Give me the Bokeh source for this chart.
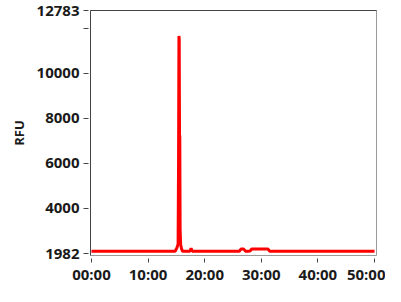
from bokeh.plotting import figure
from bokeh.models import FixedTicker, LinearAxis, Range1d
from bokeh.embed import file_html
from bokeh.resources import INLINE

# Data (time in minutes, fluorescence in RFU)
time_min = [0, 14.8, 15.1, 15.3, 15.38, 15.45, 15.5, 15.55, 15.6, 15.66, 15.75,
            15.9, 16.1, 17.4, 17.6, 17.8, 26.1, 26.4, 26.9, 27.2, 27.6, 28.0,
            28.3, 31.2, 31.5, 50]
rfu = [2080, 2090, 2250, 2400, 6000, 11650, 11500, 7250, 7200, 3000, 2400,
       2200, 2080, 2080, 2220, 2080, 2080, 2180, 2180, 2090, 2080, 2100,
       2180, 2180, 2080, 2080]

x_ticks = [0, 10, 20, 30, 40, 50]
x_labels = ["00:00", "10:00", "20:00", "30:00", "40:00", "50:00"]
y_ticks = [1982, 4000, 6000, 8000, 10000, 12000, 12783]
y_labels = ["1982", "4000", "6000", "8000", "10000", "", "12783"]

FONT = "Open Sans"
DARK = "#1a1a1a"

p = figure(width=385, height=286, output_backend="svg", toolbar_location=None,
           x_range=Range1d(-0.175, 50.35), y_range=Range1d(1896, 12783),
           min_border_left=90, min_border_right=9, min_border_top=10,
           min_border_bottom=24)
p.grid.visible = False
p.outline_line_color = "#9a9a9a"
p.outline_line_width = 1
p.background_fill_color = "white"
p.border_fill_color = "white"

p.line(time_min, rfu, line_color="#ff0000", line_width=3)

xa = p.xaxis[0]
xa.ticker = FixedTicker(ticks=x_ticks)
xa.major_label_overrides = {t: l for t, l in zip(x_ticks, x_labels)}
xa.axis_line_color = None
xa.major_tick_in = -3
xa.major_tick_out = 7
xa.major_tick_line_color = "#444444"
xa.minor_tick_line_color = None
xa.major_label_standoff = 1
xa.axis_label_standoff = 0
xa.major_label_text_font = FONT
xa.major_label_text_font_style = "bold"
xa.major_label_text_font_size = "15px"
xa.major_label_text_line_height = 1.0
xa.major_label_text_color = DARK

ya = p.yaxis[0]
ya.ticker = FixedTicker(ticks=y_ticks)
ya.major_label_overrides = {t: l for t, l in zip(y_ticks, y_labels)}
ya.axis_line_color = "#444444"
ya.major_tick_in = -2
ya.major_tick_out = 7
ya.major_tick_line_color = "#444444"
ya.minor_tick_line_color = None
ya.major_label_standoff = 4
ya.major_label_text_font = FONT
ya.major_label_text_font_style = "bold"
ya.major_label_text_font_size = "15px"
ya.major_label_text_color = DARK
ya.axis_label = "RFU"
ya.axis_label_text_font = FONT
ya.axis_label_text_font_style = "bold"
ya.axis_label_text_font_size = "13px"
ya.axis_label_text_color = DARK
ya.axis_label_standoff = 6

top = LinearAxis(ticker=FixedTicker(ticks=[]), major_label_text_font_size="0px",
                 axis_line_color="#444444", major_tick_line_color=None,
                 minor_tick_line_color=None, major_label_standoff=0,
                 axis_label_standoff=0)
p.add_layout(top, "above")

open("out.html", "w").write(file_html(p, INLINE))
